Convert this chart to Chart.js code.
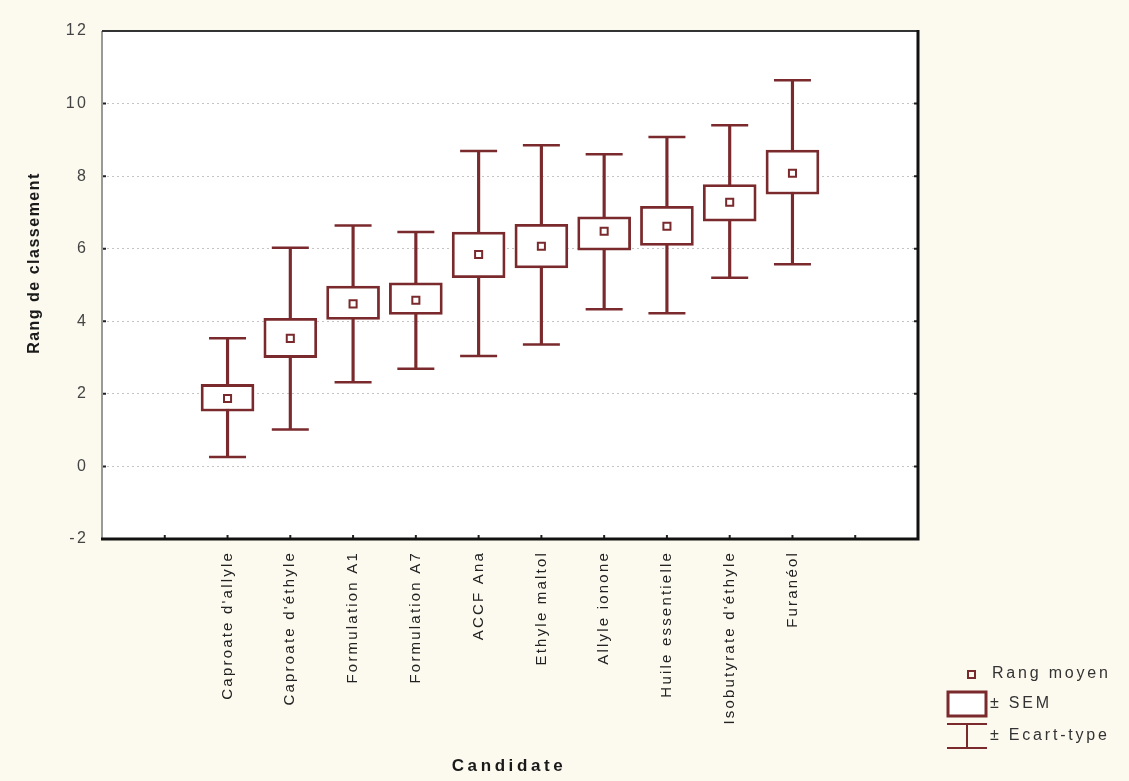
<!DOCTYPE html>
<html>
<head>
<meta charset="utf-8">
<script src="https://cdn.jsdelivr.net/npm/chart.js@4.4.1/dist/chart.umd.min.js"></script>
<style>
  html, body { margin: 0; padding: 0; background: #fcf9ef; }
  #wrap { width: 1129px; height: 781px; position: relative; }
</style>
</head>
<body>
<div id="wrap"><canvas id="c" width="1129" height="781"></canvas></div>
<script>
// Candidates, in ranking order
const categories = ["Caproate d'allyle", "Caproate d'éthyle", "Formulation A1", "Formulation A7", "ACCF Ana",
                    "Ethyle maltol", "Allyle ionone", "Huile essentielle", "Isobutyrate d'éthyle", "Furanéol"];
// Mean rank
const meanRank = [1.87, 3.53, 4.48, 4.58, 5.84, 6.07, 6.48, 6.62, 7.28, 8.08];
// Mean ± SEM
const semLow  = [1.52, 3.00, 4.05, 4.19, 5.20, 5.47, 5.96, 6.09, 6.76, 7.50];
const semHigh = [2.26, 4.08, 4.97, 5.06, 6.46, 6.67, 6.88, 7.17, 7.77, 8.72];
// Mean ± standard deviation
const sdLow   = [0.26, 1.02, 2.32, 2.69, 3.04, 3.36, 4.33, 4.22, 5.20, 5.57];
const sdHigh  = [3.53, 6.03, 6.64, 6.46, 8.69, 8.85, 8.60, 9.08, 9.40, 10.64];
// Y axis ticks
const yTicks = [-2, 0, 2, 4, 6, 8, 10, 12];

const LEAD = 2, TRAIL = 2;   // empty slots on each side of the candidates
const slots = [...Array(LEAD).fill(''), ...categories, ...Array(TRAIL).fill('')];
const pad = arr => [...Array(LEAD).fill(null), ...arr, ...Array(TRAIL).fill(null)];

const MAROON = '#7a2a2c';
const SPACING = '2.2px';
const FONT = '"Liberation Sans", Arial, sans-serif';

const framePlugin = {
  id: 'frame',
  beforeLayout(chart) { chart.ctx.letterSpacing = SPACING; },
  beforeDraw(chart) {
    const { ctx, chartArea: a } = chart;
    ctx.save();
    ctx.fillStyle = '#fcf9ef';
    ctx.fillRect(0, 0, chart.width, chart.height);
    ctx.fillStyle = '#ffffff';
    ctx.fillRect(a.left, a.top, a.right - a.left, a.bottom - a.top);
    ctx.restore();
    ctx.letterSpacing = SPACING;
  },
  afterDraw(chart) {
    const { ctx, chartArea: a, scales } = chart;
    ctx.save();
    // small inward ticks
    ctx.strokeStyle = '#222';
    ctx.lineWidth = 2;
    ctx.beginPath();
    for (let i = 1; i < slots.length - 1; i++) {
      const x = scales.x.getPixelForValue(i);
      ctx.moveTo(x, a.bottom); ctx.lineTo(x, a.bottom - 4);
    }
    yTicks.slice(1, -1).forEach(v => {
      const y = scales.y.getPixelForValue(v);
      ctx.moveTo(a.left, y); ctx.lineTo(a.left + 4, y);
      ctx.moveTo(a.right, y); ctx.lineTo(a.right - 4, y);
    });
    ctx.stroke();
    // frame
    ctx.lineWidth = 2;
    ctx.strokeStyle = '#999';
    ctx.beginPath(); ctx.moveTo(a.left, a.top); ctx.lineTo(a.left, a.bottom); ctx.stroke();
    ctx.strokeStyle = '#333';
    ctx.beginPath(); ctx.moveTo(a.left, a.top); ctx.lineTo(a.right, a.top); ctx.stroke();
    ctx.lineWidth = 3;
    ctx.strokeStyle = '#111';
    ctx.beginPath(); ctx.moveTo(a.left - 1, a.bottom); ctx.lineTo(a.right, a.bottom); ctx.lineTo(a.right, a.top - 1); ctx.stroke();

    // axis titles
    ctx.fillStyle = '#1a1a1a';
    ctx.font = 'bold 17px ' + FONT;
    ctx.letterSpacing = '3.6px';
    ctx.textAlign = 'center';
    ctx.textBaseline = 'middle';
    ctx.fillText('Candidate', 509, 766);
    ctx.save();
    ctx.translate(35, 263);
    ctx.rotate(-Math.PI / 2);
    ctx.font = 'bold 16px ' + FONT;
    ctx.letterSpacing = '1.5px';
    ctx.fillText('Rang de classement', 0, 0);
    ctx.restore();

    // legend
    ctx.font = '16px ' + FONT;
    ctx.letterSpacing = '2.8px';
    ctx.textAlign = 'left';
    ctx.fillStyle = '#333';
    ctx.strokeStyle = MAROON;
    ctx.lineWidth = 2;
    ctx.strokeRect(968, 671, 7, 7);
    ctx.fillText('Rang moyen', 992, 674);
    ctx.lineWidth = 3;
    ctx.fillStyle = '#fff';
    ctx.fillRect(948, 692, 38, 24);
    ctx.strokeRect(948, 692, 38, 24);
    ctx.fillStyle = '#333';
    ctx.fillText('± SEM', 990, 704);
    ctx.lineWidth = 2;
    ctx.beginPath();
    ctx.moveTo(947, 724); ctx.lineTo(987, 724);
    ctx.moveTo(967, 724); ctx.lineTo(967, 748);
    ctx.moveTo(947, 748); ctx.lineTo(987, 748);
    ctx.stroke();
    ctx.fillText('± Ecart-type', 990, 736);
    ctx.restore();
  }
};

new Chart(document.getElementById('c'), {
  data: {
    labels: slots,
    datasets: [
      {
        // whisker stems: mean ± standard deviation
        type: 'bar',
        data: pad(sdLow.map((v, i) => [v, sdHigh[i]])),
        backgroundColor: MAROON,
        borderWidth: 0,
        barThickness: 2.5,
        grouped: false,
        order: 3
      },
      {
        // whisker caps (upper)
        type: 'scatter',
        data: pad(sdHigh),
        pointStyle: 'line',
        pointRadius: 18.5,
        borderColor: MAROON,
        borderWidth: 2.5,
        showLine: false,
        order: 2
      },
      {
        // whisker caps (lower)
        type: 'scatter',
        data: pad(sdLow),
        pointStyle: 'line',
        pointRadius: 18.5,
        borderColor: MAROON,
        borderWidth: 2.5,
        showLine: false,
        order: 2
      },
      {
        // mean ± SEM boxes
        type: 'bar',
        data: pad(semLow.map((v, i) => [v, semHigh[i]])),
        backgroundColor: '#ffffff',
        borderColor: MAROON,
        borderWidth: 2.8,
        borderSkipped: false,
        barThickness: 53,
        grouped: false,
        order: 1
      },
      {
        // mean rank markers
        type: 'scatter',
        data: pad(meanRank),
        pointStyle: 'rect',
        pointRadius: 5,
        backgroundColor: '#ffffff',
        borderColor: MAROON,
        borderWidth: 2,
        showLine: false,
        order: 0
      }
    ]
  },
  options: {
    responsive: false,
    animation: false,
    events: [],
    layout: { padding: { left: 0, right: 211, top: 31, bottom: 0 } },
    plugins: { legend: { display: false }, tooltip: { enabled: false } },
    scales: {
      x: {
        type: 'category',
        offset: false,
        grid: { display: false, drawTicks: false },
        border: { display: false },
        ticks: {
          autoSkip: false,
          minRotation: 90,
          maxRotation: 90,
          padding: 12,
          color: '#222',
          font: { family: FONT, size: 15 }
        },
        afterFit(scale) { scale.height = 242; }
      },
      y: {
        type: 'linear',
        min: -2,
        max: 12,
        afterBuildTicks(scale) { scale.ticks = yTicks.map(v => ({ value: v })); },
        grid: {
          drawTicks: false,
          color: ctx => (ctx.tick && (ctx.tick.value === -2 || ctx.tick.value === 12)) ? 'rgba(0,0,0,0)' : '#c4c4c4',
          lineWidth: 1
        },
        border: { display: false, dash: [2, 3] },
        ticks: {
          padding: 14,
          color: '#444',
          font: { family: FONT, size: 16 }
        },
        afterFit(scale) { scale.width = 102; }
      }
    }
  },
  plugins: [framePlugin]
});
</script>
</body>
</html>
